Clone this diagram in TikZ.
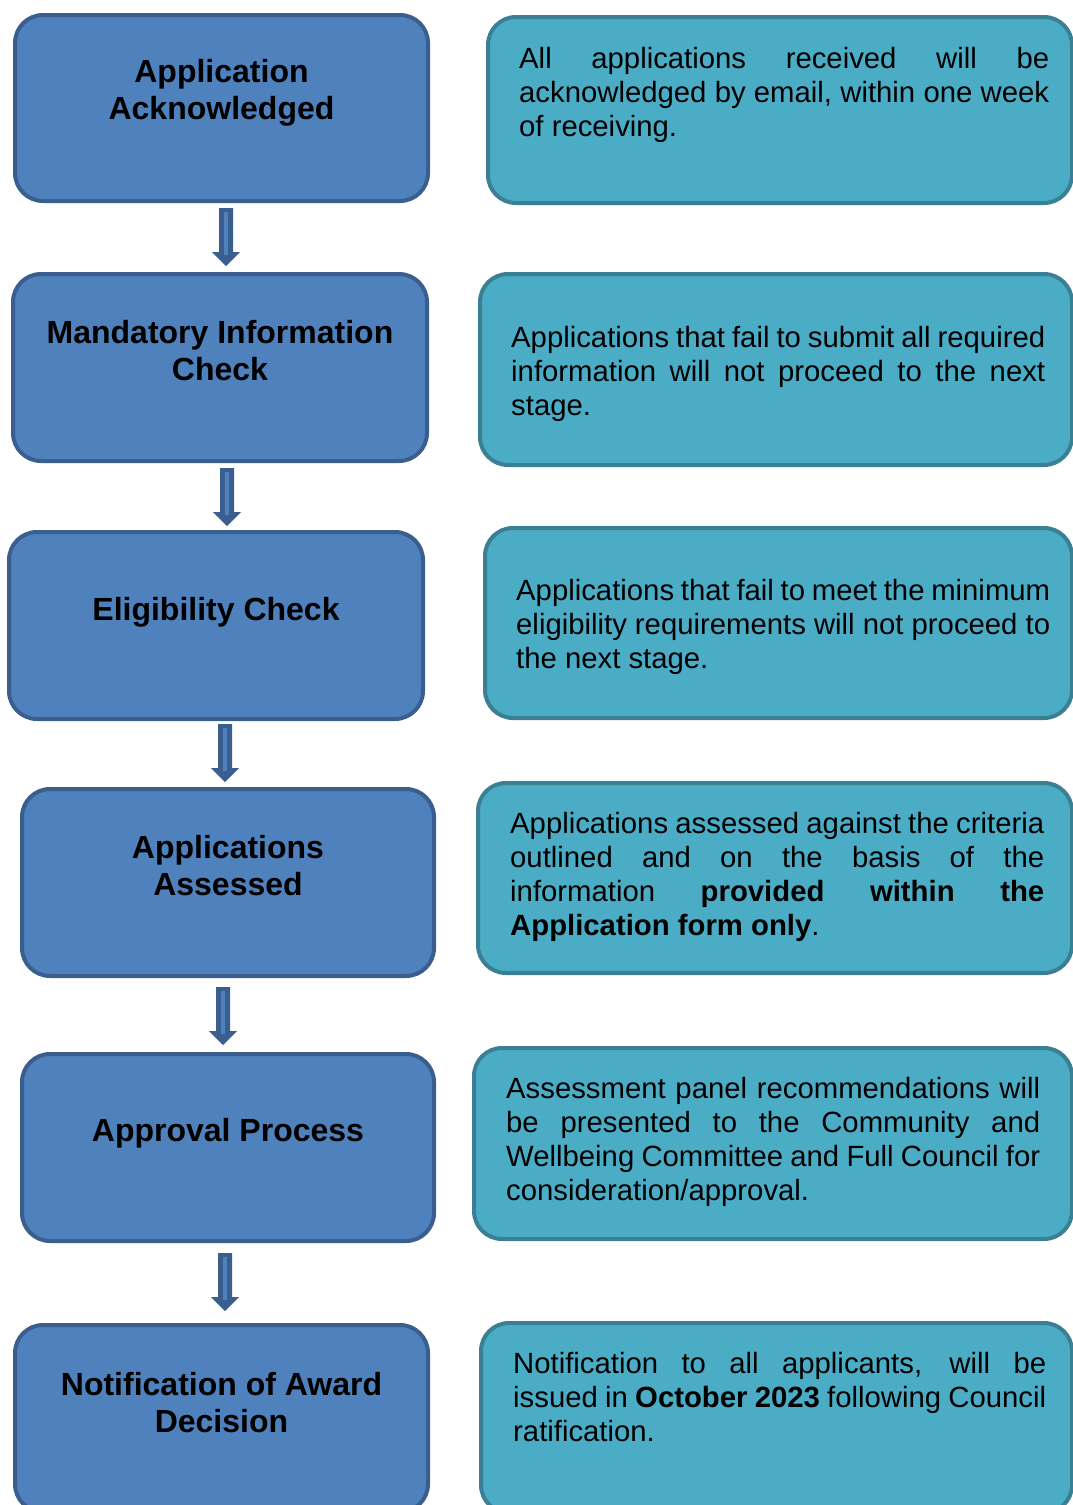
\documentclass[tikz,border=0pt]{standalone}
\usepackage{fontspec}
\setmainfont{Liberation Sans}
\definecolor{lfill}{HTML}{4F81BD}
\definecolor{lborder}{HTML}{3A5F8E}
\definecolor{rfill}{HTML}{4BACC6}
\definecolor{rborder}{HTML}{3A7F93}
\definecolor{arrdark}{HTML}{3A5F8E}
\definecolor{arrlight}{HTML}{4F81BD}
\newcommand{\jline}[2]{\makebox[#1][s]{\spaceskip=0pt\relax\xspaceskip=0pt\relax #2}}
\newcommand{\natl}[1]{\mbox{\spaceskip=0pt\relax\xspaceskip=0pt\relax #1}}
\begin{document}
\begin{tikzpicture}[x=1pt,y=-1pt,
  lbox/.style={draw=lborder, fill=lfill, line width=4pt, rounded corners=28pt, inner sep=0pt},
  rbox/.style={draw=rborder, fill=rfill, line width=4pt, rounded corners=28pt, inner sep=0pt},
  ltext/.style={anchor=north, inner sep=0pt, align=center, font=\fontsize{32}{37}\selectfont\bfseries},
  rtext/.style={anchor=north west, inner sep=0pt, align=left, font=\fontsize{29.3}{34}\selectfont},
  blockarrow/.pic={
    \fill[arrdark] (-7,0) -- (7,0) -- (7,44) -- (14,44) -- (0,58) -- (-14,44) -- (-7,44) -- cycle;
    \draw[arrlight, line width=4pt] (0,4) -- (0,47);
  }
]
\useasboundingbox (0,0) rectangle (1073,1505);
\clip (0,0) rectangle (1073,1505);

% left boxes
\node[lbox, minimum width=413pt, minimum height=186pt] (b1) at (221.5,108) {};
\node[lbox, minimum width=414pt, minimum height=187pt] (b2) at (220,367.5) {};
\node[lbox, minimum width=414pt, minimum height=187pt] (b3) at (216,625.5) {};
\node[lbox, minimum width=412pt, minimum height=187pt] (b4) at (228,882.5) {};
\node[lbox, minimum width=412pt, minimum height=187pt] (b5) at (228,1147.5) {};
\node[lbox, minimum width=413pt, minimum height=187pt] (b6) at (221.5,1418.5) {};

\node[ltext] (t1) at (221.5,59.5) {Application\\Acknowledged};
\node[ltext] (t2) at (220,320.5) {\natl{Mandatory Information}\\Check};
\node[ltext] (t3) at (216,597.5) {\natl{Eligibility Check}};
\node[ltext] (t4) at (228,835.5) {Applications\\Assessed};
\node[ltext] (t5) at (228,1118.5) {\natl{Approval Process}};
\node[ltext] (t6) at (221.5,1372.5) {\natl{Notification of Award}\\Decision};

% arrows
\pic at (226,208) {blockarrow};
\pic at (227,468) {blockarrow};
\pic at (225,724) {blockarrow};
\pic at (223,987) {blockarrow};
\pic at (225,1253) {blockarrow};

% right boxes
\node[rbox, minimum width=584pt, minimum height=186pt] (r1) at (780,110) {};
\node[rbox, minimum width=592pt, minimum height=191pt] (r2) at (776,369.5) {};
\node[rbox, minimum width=587pt, minimum height=190pt] (r3) at (778.5,623) {};
\node[rbox, minimum width=594pt, minimum height=190pt] (r4) at (775,878) {};
\node[rbox, minimum width=598pt, minimum height=191pt] (r5) at (773,1143.5) {};
\node[rbox, minimum width=591pt, minimum height=190pt] (r6) at (776.5,1418) {};

\node[rtext, text width=530pt] (s1) at (519,47.5) {%
\jline{530pt}{All applications received will be}\\
\jline{530pt}{acknowledged by email, within one week}\\
\natl{of receiving.}};
\node[rtext, text width=534pt] (s2) at (511,326.5) {%
\jline{534pt}{Applications that fail to submit all required}\\
\jline{534pt}{information will not proceed to the next}\\
\natl{stage.}};
\node[rtext, text width=534pt] (s3) at (516,579.5) {%
\jline{534pt}{Applications that fail to meet the minimum}\\
\jline{534pt}{eligibility requirements will not proceed to}\\
\natl{the next stage.}};
\node[rtext, text width=534pt] (s4) at (510,812.5) {%
\jline{534pt}{Applications assessed against the criteria}\\
\jline{534pt}{outlined and on the basis of the}\\
\jline{534pt}{information \textbf{provided} \textbf{within} \textbf{the}}\\
\natl{\textbf{Application form only}.}};
\node[rtext, text width=534pt] (s5) at (506,1077.5) {%
\jline{534pt}{Assessment panel recommendations will}\\
\jline{534pt}{be presented to the Community and}\\
\jline{534pt}{Wellbeing Committee and Full Council for}\\
\natl{consideration/approval.}};
\node[rtext, text width=533pt] (s6) at (513,1352.5) {%
\jline{533pt}{Notification to all applicants, will be}\\
\jline{533pt}{issued in \textbf{October 2023} following Council}\\
\natl{ratification.}};
\end{tikzpicture}
\end{document}
